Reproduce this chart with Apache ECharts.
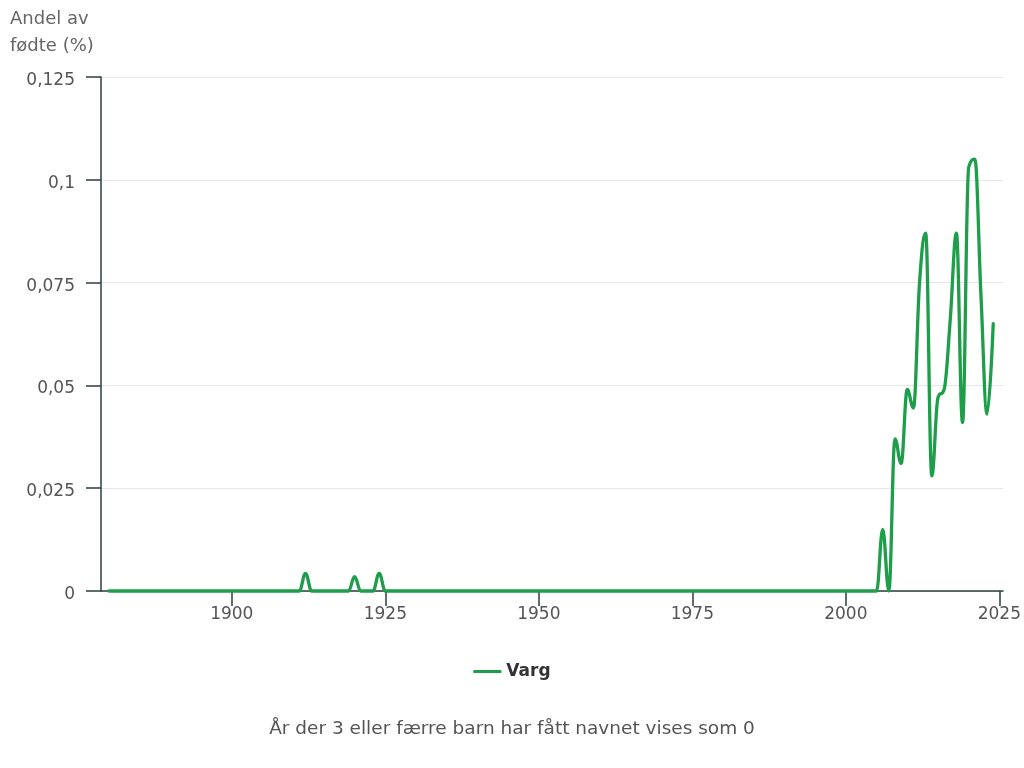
<!DOCTYPE html>
<html><head><meta charset="utf-8">
<script src="https://cdn.jsdelivr.net/npm/echarts@6/dist/echarts.min.js"></script>
<style>html,body{margin:0;padding:0;background:#fff}#c{width:1024px;height:768px}</style>
</head><body><div id="c"></div>
<script>
const years = [
1880,1881,1882,1883,1884,1885,1886,1887,1888,1889,
1890,1891,1892,1893,1894,1895,1896,1897,1898,1899,
1900,1901,1902,1903,1904,1905,1906,1907,1908,1909,
1910,1911,1912,1913,1914,1915,1916,1917,1918,1919,
1920,1921,1922,1923,1924,1925,1926,1927,1928,1929,
1930,1931,1932,1933,1934,1935,1936,1937,1938,1939,
1940,1941,1942,1943,1944,1945,1946,1947,1948,1949,
1950,1951,1952,1953,1954,1955,1956,1957,1958,1959,
1960,1961,1962,1963,1964,1965,1966,1967,1968,1969,
1970,1971,1972,1973,1974,1975,1976,1977,1978,1979,
1980,1981,1982,1983,1984,1985,1986,1987,1988,1989,
1990,1991,1992,1993,1994,1995,1996,1997,1998,1999,
2000,2001,2002,2003,2004,2005,2006,2007,2008,2009,
2010,2011,2012,2013,2014,2015,2016,2017,2018,2019,
2020,2021,2022,2023,2024];
const varg = [
0,0,0,0,0,0,0,0,0,0,
0,0,0,0,0,0,0,0,0,0,
0,0,0,0,0,0,0,0,0,0,
0,0,0.0043,0,0,0,0,0,0,0,
0.0035,0,0,0,0.0043,0,0,0,0,0,
0,0,0,0,0,0,0,0,0,0,
0,0,0,0,0,0,0,0,0,0,
0,0,0,0,0,0,0,0,0,0,
0,0,0,0,0,0,0,0,0,0,
0,0,0,0,0,0,0,0,0,0,
0,0,0,0,0,0,0,0,0,0,
0,0,0,0,0,0,0,0,0,0,
0,0,0,0,0,0,0.015,0,0.037,0.031,
0.049,0.0445,0.075,0.087,0.028,0.047,0.049,0.066,0.087,0.041,
0.103,0.105,0.072,0.043,0.065];
const xTicks = [1900,1925,1950,1975,2000,2025];
const seriesName = 'Varg';
const yTitle = 'Andel av\nfødte (%)';
const footnote = 'År der 3 eller færre barn har fått navnet vises som 0';

const FONT = 'DejaVu Sans';
const GREEN = '#1e9e4a';

// Spline control points (cardinal-style with flat tangents at local extremes)
function controls(pts, i) {
  const p = pts[i], a = pts[i-1], b = pts[i+1];
  if (!a || !b) return null;
  const s = 1.5, d = s + 1;
  let lx = (s*p[0] + a[0])/d, ly = (s*p[1] + a[1])/d;
  let rx = (s*p[0] + b[0])/d, ry = (s*p[1] + b[1])/d;
  let corr = 0;
  if (rx !== lx) corr = ((ry - ly)*(rx - p[0]))/(rx - lx) + p[1] - ry;
  ly += corr; ry += corr;
  if (ly > a[1] && ly > p[1]) { ly = Math.max(a[1], p[1]); ry = 2*p[1] - ly; }
  else if (ly < a[1] && ly < p[1]) { ly = Math.min(a[1], p[1]); ry = 2*p[1] - ly; }
  if (ry > b[1] && ry > p[1]) { ry = Math.max(b[1], p[1]); ly = 2*p[1] - ry; }
  else if (ry < b[1] && ry < p[1]) { ry = Math.min(b[1], p[1]); ly = 2*p[1] - ry; }
  return {lx, ly, rx, ry};
}

const chart = echarts.init(document.getElementById('c'), null, {renderer:'canvas'});
chart.setOption({
  animation:false,
  backgroundColor:'#fff',
  textStyle:{fontFamily:FONT},
  title:[
    {text:yTitle, left:10, top:6, padding:0, textStyle:{fontFamily:FONT, fontSize:18, fontWeight:'normal', color:'#666', lineHeight:27}},
    {text:footnote, left:'center', top:720, padding:0, textStyle:{fontFamily:FONT, fontSize:18.5, fontWeight:'normal', color:'#555'}}
  ],
  legend:{
    top:658, left:'center', itemWidth:28, itemHeight:3, itemGap:10,
    textStyle:{fontFamily:FONT, fontSize:17, fontWeight:'bold', color:'#333'},
    data:[{name:seriesName, icon:'rect', itemStyle:{color:GREEN}}]
  },
  grid:{left:101, right:18, top:77, bottom:177, containLabel:false},
  xAxis:{
    type:'value', min:1878.7, max:2025.6,
    axisLine:{show:true, lineStyle:{color:'#2e3e3e', width:1.5}},
    axisTick:{show:true, length:15, customValues:xTicks, lineStyle:{color:'#2e3e3e', width:1.5}},
    axisLabel:{customValues:xTicks, margin:15, fontFamily:FONT, fontSize:17, color:'#555',
      formatter:v=>String(v)},
    splitLine:{show:false}
  },
  yAxis:{
    type:'value', min:0, max:0.125, interval:0.025,
    axisLine:{show:true, lineStyle:{color:'#2e3e3e', width:1.5}},
    axisTick:{show:true, length:15, lineStyle:{color:'#2e3e3e', width:1.5}},
    axisLabel:{margin:26, fontFamily:FONT, fontSize:17, color:'#555', verticalAlign:'top', lineHeight:7,
      formatter:v=>String(Math.round(v*1000)/1000).replace('.',',')},
    splitLine:{show:true, lineStyle:{color:'#e6e6e6', width:1}}
  },
  series:[{
    name:seriesName, type:'custom',
    itemStyle:{color:GREEN},
    encode:{x:0, y:1},
    data:years.map((y,i)=>[y,varg[i]]),
    renderItem:function(params, api){
      if (params.dataIndex !== 0) return null;
      const pts = years.map((y,j)=>api.coord([y, varg[j]]));
      const cps = pts.map((p,j)=>controls(pts, j));
      let d = 'M' + pts[0][0] + ' ' + pts[0][1];
      for (let i = 1; i < pts.length; i++) {
        const p0 = pts[i-1], p1 = pts[i], c0 = cps[i-1], c1 = cps[i];
        d += ' C' + (c0 ? c0.rx : p0[0]) + ' ' + (c0 ? c0.ry : p0[1]) + ' ' +
             (c1 ? c1.lx : p1[0]) + ' ' + (c1 ? c1.ly : p1[1]) + ' ' + p1[0] + ' ' + p1[1];
      }
      return {
        type:'path',
        shape:{pathData:d},
        style:{stroke:GREEN, lineWidth:3.3, fill:null, lineJoin:'round', lineCap:'round'},
        silent:true
      };
    }
  }]
});
</script></body></html>
